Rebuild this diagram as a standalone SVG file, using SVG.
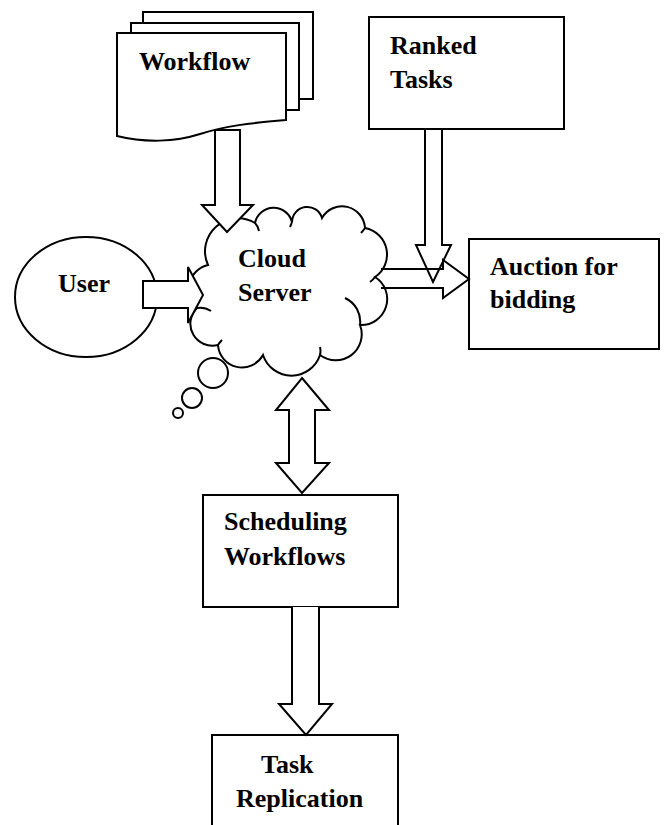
<svg xmlns="http://www.w3.org/2000/svg" width="671" height="825" viewBox="0 0 671 825">
<style>
.s{fill:#fff;stroke:#000;stroke-width:2;stroke-linejoin:miter}
.n{fill:none;stroke:#000;stroke-width:2}
.t{font-family:"Liberation Serif","Times New Roman",serif;font-weight:bold;font-size:26px;fill:#000}
</style>
<rect width="671" height="825" fill="#fff"/>
<g id="workflow">
<rect class="s" x="143" y="12" width="170" height="87"/>
<rect class="s" x="131" y="23" width="168" height="87"/>
<path class="s" d="M117,33 H286 V120 C250,123 225,126 200,134 C175,142 145,143 117,136 Z"/>
<text class="t" x="139" y="70">Workflow</text>
</g>
<g id="ranked">
<rect class="s" x="369" y="17" width="195" height="112"/>
<text class="t" x="390" y="54">Ranked</text>
<text class="t" x="390" y="88">Tasks</text>
</g>
<g id="cloud">
<path class="s" d="M208,265 A33,33 0 0 1 255,223 A19,19 0 0 1 292,222 A15.3,15.3 0 0 1 322,218 A23,23 0 0 1 365,228 A27,27 0 0 1 375,277 A26,26 0 0 1 360,325 A26,26 0 0 1 320,355 A30,30 0 0 1 263,355 A24,24 0 0 1 218,345 A22,22 0 0 1 197,308 A25,25 0 0 1 208,265 Z"/>
<path class="n" d="M345,298 A26,26 0 0 1 360,325 M197,308 A20,20 0 0 1 211,311 M255,223 Q258,226 259,231 M365,228 Q363,231 361,233 M375,277 Q373,280 370,282 M320,355 Q321,351 320,347 M218,345 Q220,342 222,340 M292,222 Q291,225 290,227"/>
<circle class="s" cx="213" cy="373" r="15"/>
<circle class="s" cx="192" cy="398" r="10"/>
<circle class="s" cx="178" cy="413" r="5"/>
<text class="t" x="238" y="267">Cloud</text>
<text class="t" x="238" y="301">Server</text>
</g>
<g id="user">
<ellipse class="s" cx="86" cy="297" rx="71" ry="60"/>
<text class="t" x="58" y="292">User</text>
</g>
<g id="auction">
<rect class="s" x="469" y="239" width="190" height="110"/>
<text class="t" x="490" y="275">Auction for</text>
<text class="t" x="490" y="308">bidding</text>
</g>
<g id="scheduling">
<rect class="s" x="203" y="495" width="195" height="112"/>
<text class="t" x="224" y="530">Scheduling</text>
<text class="t" x="224" y="565">Workflows</text>
</g>
<g id="replication">
<rect class="s" x="212" y="735" width="186" height="110"/>
<text class="t" x="261" y="773">Task</text>
<text class="t" x="236" y="807">Replication</text>
</g>
<g id="connectors">
<path class="s" d="M215,130 H240 V205 H253 L227,232 L202,205 H215 Z"/>
<path class="s" d="M143,281 H188 V267 L203,295 L188,323 V308 H143 Z"/>
<path class="n" d="M381,269 H443 V260 L469,279 L443,298 V288 H381"/>
<path class="n" d="M425,129 V245 H416 L433,282 L451,245 H442 V129"/>
<path class="s" d="M302,378 L329,410 H315 V463 H329 L302,493 L276,463 H289 V410 H276 Z"/>
<path class="s" d="M292,607 V704 H279 L306,735 L332,704 H319 V607"/>
</g>
</svg>
